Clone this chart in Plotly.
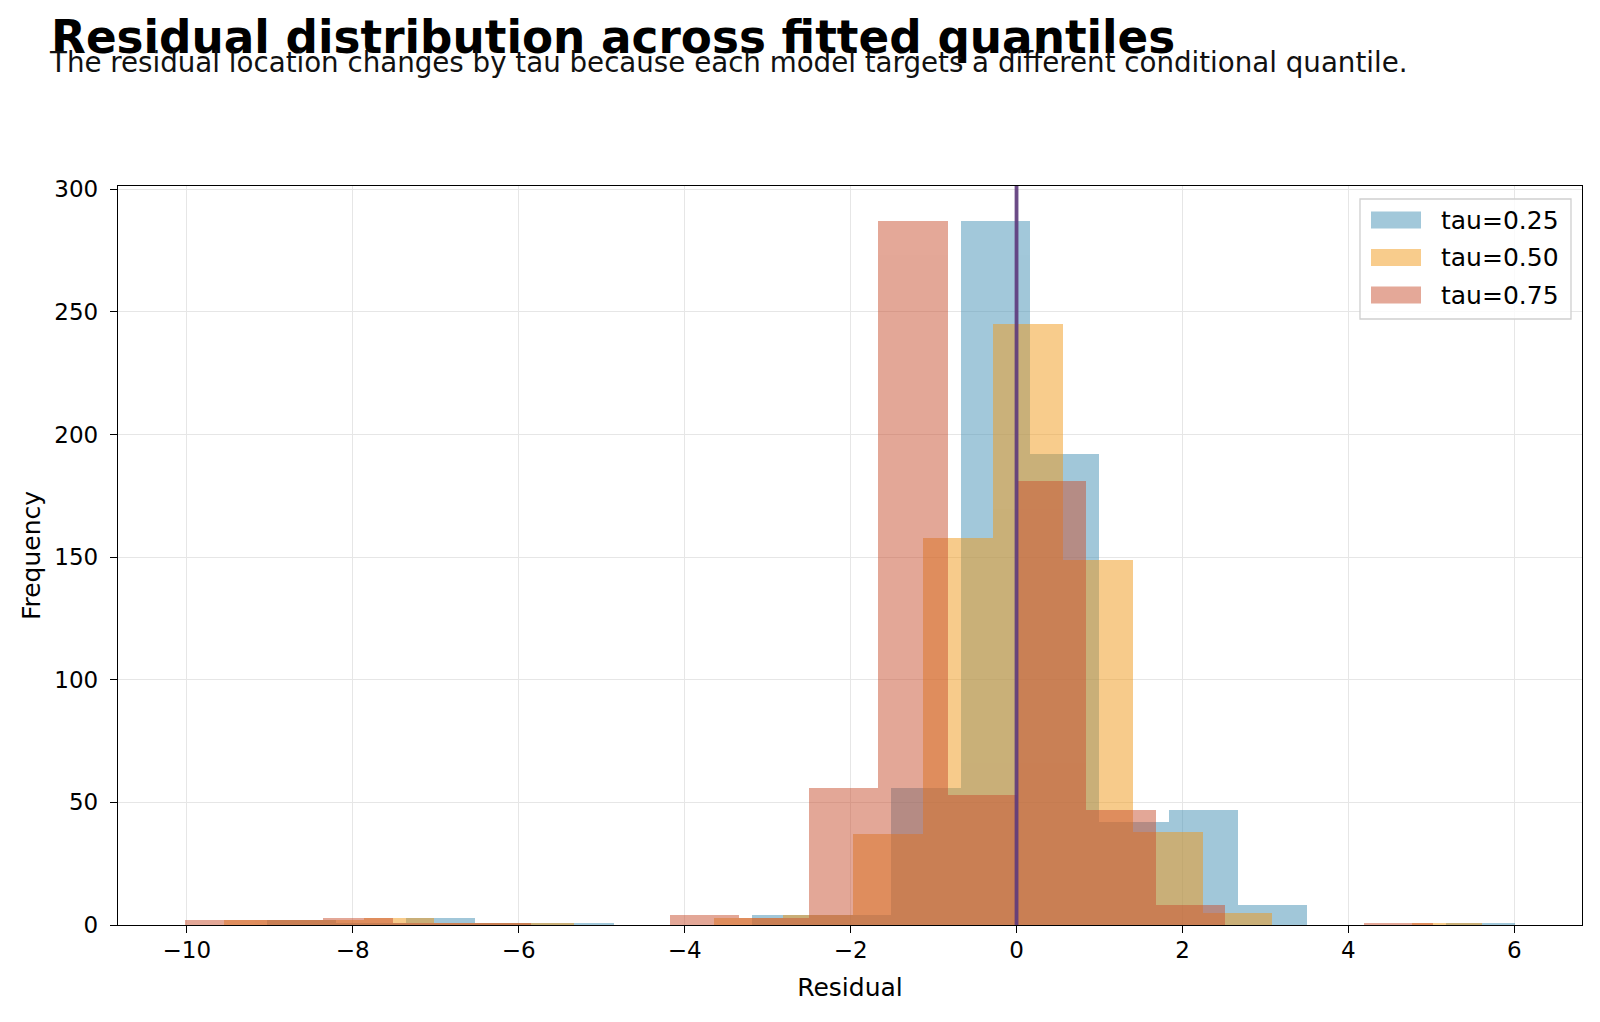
import numpy as np
import plotly.graph_objects as go

# ---- data ----
series_names = ["tau=0.25", "tau=0.50", "tau=0.75"]

# histogram range (lowest edge, highest edge) and number of bins per series
tau25_range = (-9.035, 6.013)
tau50_range = (-9.546, 5.610)
tau75_range = (-10.027, 5.021)
n_bins = 18

tau25_counts = [2, 1, 3, 1, 1, 0, 0, 4, 4, 56, 287, 192, 42, 47, 8, 0, 0, 1]
tau50_counts = [2, 2, 3, 1, 1, 0, 0, 3, 4, 37, 158, 245, 149, 38, 5, 0, 0, 1]
tau75_counts = [2, 2, 3, 1, 1, 0, 0, 4, 3, 56, 287, 53, 181, 47, 8, 0, 0, 1]

x_ticks = [-10, -8, -6, -4, -2, 0, 2, 4, 6]
y_ticks = [0, 50, 100, 150, 200, 250, 300]
reference_x = 0

title_text = "Residual distribution across fitted quantiles"
subtitle_text = ("The residual location changes by tau because each model targets a "
                 "different conditional quantile.")

# ---- styles ----
colors = ["#4591b5", "#f19919", "#c95131"]
BAR_OPACITY = 0.5
FONT = "DejaVu Sans"

W, H = 1600, 1022
L, R, T, B = 118, 18, 186, 97
pw, ph = W - L - R, H - T - B


def px_x(p):
    return (p - L) / pw


def px_y(p):
    return (H - B - p) / ph


fig = go.Figure()
all_edges = []
for name, rng, counts, col in zip(series_names,
                                  [tau25_range, tau50_range, tau75_range],
                                  [tau25_counts, tau50_counts, tau75_counts],
                                  colors):
    edges = np.linspace(rng[0], rng[1], n_bins + 1)
    all_edges.extend([edges[0], edges[-1]])
    centers = (edges[:-1] + edges[1:]) / 2
    widths = np.diff(edges)
    fig.add_trace(go.Bar(
        x=centers, y=counts, width=widths, name=name,
        marker=dict(color=col, line=dict(width=0)),
        opacity=BAR_OPACITY, showlegend=False,
    ))

lo, hi = min(all_edges), max(all_edges)
pad = 0.05 * (hi - lo)
ymax = max(max(tau25_counts), max(tau50_counts), max(tau75_counts)) * 1.05

# vertical reference line at residual = 0
fig.add_shape(type="line", x0=reference_x, x1=reference_x, xref="x",
              y0=0, y1=1, yref="paper",
              line=dict(color="#5e3a7c", width=3.8), opacity=0.9, layer="above")

# ---- legend (matplotlib-style, wide swatches) ----
box_l, box_r, box_t, box_b = 1360, 1571, 199, 319
fig.add_shape(type="rect", xref="paper", yref="paper",
              x0=px_x(box_l), x1=px_x(box_r), y0=px_y(box_b), y1=px_y(box_t),
              fillcolor="rgba(255,255,255,0.8)",
              line=dict(color="#cfcfcf", width=1.3), layer="above")
row_centers = [220, 257.5, 295]
for name, col, yc in zip(series_names, colors, row_centers):
    fig.add_shape(type="rect", xref="paper", yref="paper",
                  x0=px_x(1371), x1=px_x(1421),
                  y0=px_y(yc + 8.5), y1=px_y(yc - 8.5),
                  fillcolor=col, opacity=BAR_OPACITY,
                  line=dict(width=0), layer="above")
    fig.add_annotation(text=name, xref="paper", yref="paper",
                       x=px_x(1439), y=px_y(yc), xanchor="left", yanchor="middle",
                       showarrow=False, font=dict(family=FONT, size=25, color="black"))

# ---- title and subtitle ----
fig.add_annotation(text="<b>" + title_text + "</b>", xref="paper", yref="paper",
                   x=px_x(49), y=px_y(37), xanchor="left", yanchor="middle",
                   showarrow=False, font=dict(family=FONT, size=45.3, color="black"))
fig.add_annotation(text=subtitle_text, xref="paper", yref="paper",
                   x=px_x(47), y=px_y(63), xanchor="left", yanchor="middle",
                   showarrow=False, font=dict(family=FONT, size=27.7, color="#111111"))

axis_common = dict(showline=True, mirror=True, linecolor="black", linewidth=1.3,
                   ticks="outside", ticklen=7, tickwidth=1.3, tickcolor="black",
                   showgrid=True, gridcolor="#e6e6e6", gridwidth=1,
                   zeroline=False, tickfont=dict(family=FONT, size=23, color="black"))

fig.update_layout(
    width=W, height=H,
    margin=dict(l=L, r=R, t=T, b=B),
    paper_bgcolor="white", plot_bgcolor="white",
    barmode="overlay", bargap=0,
    font=dict(family=FONT, size=23, color="black"),
    showlegend=False,
    xaxis=dict(range=[lo - pad, hi + pad], tickvals=x_ticks, ticklabelstandoff=-3,
               title=dict(text="Residual", font=dict(family=FONT, size=25), standoff=16),
               **axis_common),
    yaxis=dict(range=[0, ymax], tickvals=y_ticks, ticklabelstandoff=7,
               title=dict(text="Frequency", font=dict(family=FONT, size=25), standoff=6),
               **axis_common),
)

fig.write_html("out.html")
